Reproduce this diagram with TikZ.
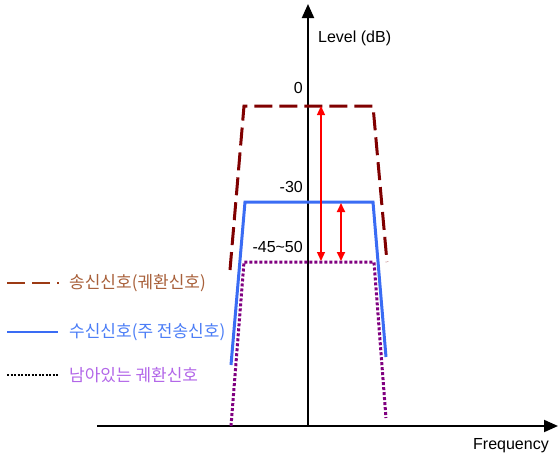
\documentclass[tikz,border=0pt]{standalone}
\usepackage{fontspec}
\setmainfont{Liberation Sans}
\newfontfamily\kor{Noto Sans CJK KR}
\usetikzlibrary{arrows.meta}

\definecolor{txdark}{HTML}{800000}
\definecolor{txbrown}{HTML}{9C3A14}
\definecolor{txtext}{HTML}{A8603A}
\definecolor{rxblue}{HTML}{3A6CF4}
\definecolor{rxtext}{HTML}{4B7DF6}
\definecolor{fbpurple}{HTML}{800080}
\definecolor{fbtext}{HTML}{B266E8}
\definecolor{gapred}{HTML}{FF0000}

\tikzstyle{axis} = [
    line width=2pt,
    -{Triangle[length=14pt,width=12pt]}
]
\tikzstyle{label} = [
    font=\fontsize{16}{19}\selectfont,
    inner sep=0pt
]
\tikzstyle{legendtext} = [
    font=\kor\fontsize{17}{20}\selectfont,
    inner sep=0pt,
    anchor=west
]
\tikzstyle{txline} = [line width=3pt, txdark, dash pattern=on 18pt off 7pt]
\tikzstyle{rxline} = [line width=3pt, rxblue]
\tikzstyle{fbline} = [line width=3pt, fbpurple, dash pattern=on 3pt off 2pt]
\tikzstyle{gap} = [draw=gapred, fill=gapred, {Triangle[length=9pt,width=8pt]}-{Triangle[length=9pt,width=8pt]}]

\begin{document}
\begin{tikzpicture}[x=1pt, y=-1pt]
\useasboundingbox (0,0) rectangle (558,461);

% axes
\coordinate (xstart) at (97,426);
\coordinate (xend) at (558,426);
\coordinate (ystart) at (308,426);
\coordinate (yend) at (308,4);
\draw [axis] (xstart) -- (xend);
\draw [axis] (ystart) -- (yend);

\node (level) [label, anchor=west] at (318,38) {Level (dB)};
\node (freq) [label] at (511,446) {Frequency};
\node (zero) [label, anchor=east] at (303,88) {0};
\node (thirty) [label, anchor=east] at (303,187) {-30};
\node (fortyfive) [label, anchor=east] at (303,247) {-45\textasciitilde50};

% transmitted (feedback) signal
\coordinate (tx1) at (230,270);
\coordinate (tx2) at (244,106);
\coordinate (tx3) at (373,106);
\coordinate (tx4) at (387,262);
\draw [txline] (tx1) -- (tx2) -- (tx3) -- (tx4);

% received signal
\coordinate (rx1) at (231,365);
\coordinate (rx2) at (245,202);
\coordinate (rx3) at (373,202);
\coordinate (rx4) at (386,357);
\draw [rxline] (rx1) -- (rx2) -- (rx3) -- (rx4);

% remaining feedback
\coordinate (fb1) at (231,426);
\coordinate (fb2) at (244,262);
\coordinate (fb3) at (374,262);
\coordinate (fb4) at (386,418);
\draw [fbline] (fb1) -- (fb2) -- (fb3) -- (fb4);

% level differences
\coordinate (d1top) at (321,106);
\coordinate (d1bot) at (321,261);
\coordinate (d2top) at (341,203);
\coordinate (d2bot) at (341,261);
\draw [gap, line width=1.3pt] (d1top) -- (d1bot);
\draw [gap, line width=1.8pt] (d2top) -- (d2bot);

% legend
\coordinate (lg1a) at (7,283);
\coordinate (lg1b) at (59,283);
\draw [line width=2.5pt, txbrown, dash pattern=on 18pt off 7pt] (lg1a) -- (lg1b);
\node (lgtx) [legendtext, txtext] at (69,283) {송신신호(궤환신호)};

\coordinate (lg2a) at (7,332);
\coordinate (lg2b) at (58,332);
\draw [line width=2.5pt, rxblue] (lg2a) -- (lg2b);
\node (lgrx) [legendtext, rxtext] at (69,332) {수신신호(주 전송신호)};

\coordinate (lg3a) at (7,375);
\coordinate (lg3b) at (58,375);
\draw [line width=2pt, black, dash pattern=on 2pt off 1.5pt] (lg3a) -- (lg3b);
\node (lgfb) [legendtext, fbtext] at (69,375) {남아있는 궤환신호};

\end{tikzpicture}
\end{document}
